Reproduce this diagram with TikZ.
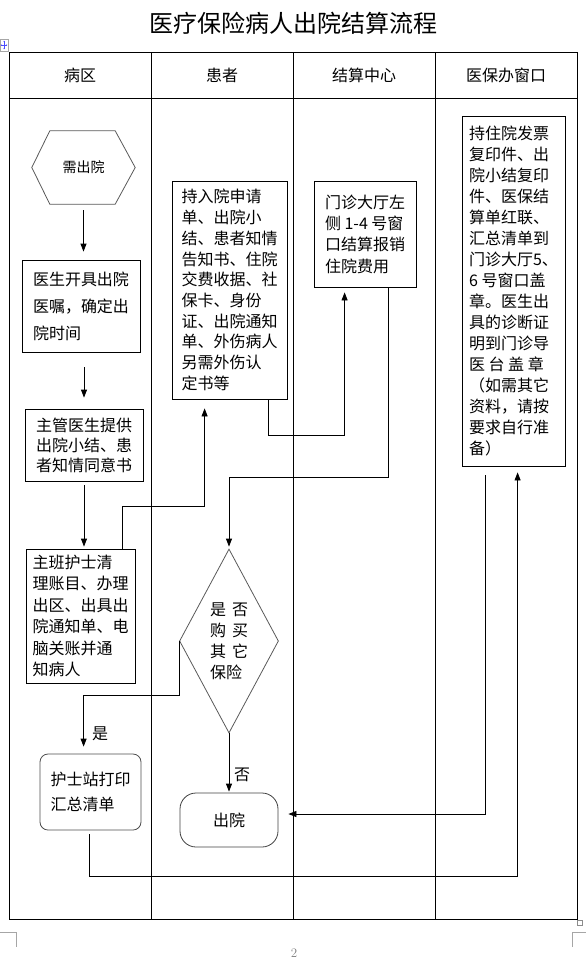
\documentclass[tikz,border=0pt]{standalone}
\usepackage{fontspec}
\newfontfamily\cjk{Noto Sans CJK SC}
\usetikzlibrary{calc,shapes.geometric,arrows.meta}

\tikzset{
	box/.style={draw, line width=0.8pt, font=\cjk\fontsize{16pt}{21pt}\selectfont, align=left, inner sep=0pt},
	head/.style={font=\cjk\fontsize{16pt}{16pt}\selectfont},
	tag/.style={font=\cjk\fontsize{16pt}{16pt}\selectfont, inner sep=0pt},
	arr/.style={line width=0.8pt, -{Triangle[width=6pt,length=8pt]}},
}

\begin{document}
\begin{tikzpicture}[x=1pt, y=-1pt]
		%%%%% START %%%%%
		\useasboundingbox (0,0) rectangle (586,975);
		
		\node[font=\cjk\fontsize{24pt}{24pt}\selectfont] (title) at (293, 23) {医疗保险病人出院结算流程};
		
		% table
		\draw[line width=1pt] (9, 52) rectangle (577, 919);
		\draw[line width=1pt] (9, 98) -- (577, 98);
		\draw[line width=1pt] (151, 52) -- (151, 919);
		\draw[line width=1pt] (293, 52) -- (293, 919);
		\draw[line width=1pt] (435, 52) -- (435, 919);
		
		\node[head] (ward) at (80, 75) {病区};
		\node[head] (pat) at (222, 75) {患者};
		\node[head] (cen) at (364, 75) {结算中心};
		\node[head] (win) at (506, 75) {医保办窗口};
		
		% word marks
		\draw[line width=0.6pt, color=black!35] (0, 39) rectangle (8, 51);
		\draw[line width=0.6pt, color=blue!70, {Stealth[length=1.5pt]}-{Stealth[length=1.5pt]}] (4, 40.5) -- (4, 49.5);
		\draw[line width=0.6pt, color=blue!70, {Stealth[length=1.5pt]}-{Stealth[length=1.5pt]}] (0.5, 45) -- (7.5, 45);
		\draw[line width=0.6pt, color=black!45] (577.5, 920) rectangle (582.5, 925);
		\draw[line width=0.7pt, color=black!35] (0, 932) -- (16, 932) -- (16, 947);
		\draw[line width=0.7pt, color=black!35] (572, 947) -- (572, 932) -- (586, 932);
		\node[text=black!50, font=\fontsize{13pt}{13pt}\selectfont] (pageno) at (294, 953) {2};
		
		% ward column
		\node[font=\cjk\fontsize{14pt}{14pt}\selectfont, minimum width=103pt, minimum height=73pt] (need) at (83.5, 167.5) {需出院};
		\draw[line width=0.8pt, color=black!65] (need.west) -- ($(need.north west)+(18,0)$) -- ($(need.north east)+(-20,0)$) -- (need.east) -- ($(need.south east)+(-20,0)$) -- ($(need.south west)+(18,0)$) -- cycle;
		
		\node[box, minimum width=118pt, minimum height=92pt, font=\cjk\fontsize{16pt}{27pt}\selectfont] (doctor) at (81, 306) {医生开具出院\\医嘱，确定出\\院时间};
		\node[box, minimum width=118pt, minimum height=72pt, font=\cjk\fontsize{16pt}{20pt}\selectfont] (chief) at (84, 445) {主管医生提供\\出院小结、患\\者知情同意书};
		\node[box, minimum width=109pt, minimum height=134pt, font=\cjk\fontsize{16pt}{21.4pt}\selectfont] (nurse) at (80.5, 616) {主班护士清\\理账目、办理\\出区、出具出\\院通知单、电\\脑关账并通\\知病人};
		\node[box, draw=black!70, rounded corners=8pt, minimum width=101pt, minimum height=76pt, font=\cjk\fontsize{16pt}{25pt}\selectfont] (station) at (90.5, 792) {护士站打印\\汇总清单};
		
		% patient column
		\node[box, minimum width=115pt, minimum height=218pt, font=\cjk\fontsize{16pt}{20.7pt}\selectfont] (patient) at (229.5, 290) {持入院申请\\单、出院小\\结、患者知情\\告知书、住院\\交费收据、社\\保卡、身份\\证、出院通知\\单、外伤病人\\另需外伤认\\定书等};
		\node[diamond, aspect=0.54, draw=black!65, line width=0.8pt, inner sep=0pt, minimum width=99pt, minimum height=184pt, align=left, font=\cjk\fontsize{16pt}{21pt}\selectfont] (decide) at (229, 641) {是\hspace{6pt}否\\购\hspace{6pt}买\\其\hspace{6pt}它\\保险};
		\node[box, draw=black!75, rounded corners=16pt, minimum width=98pt, minimum height=54pt] (exit) at (229, 820) {出院};
		
		% centre and window columns
		\node[box, minimum width=102pt, minimum height=106pt, font=\cjk\fontsize{16pt}{21.3pt}\selectfont] (settle) at (365, 234) {门诊大厅左\\侧 1-4 号窗\\口结算报销\\住院费用};
		\node[box, minimum width=103pt, minimum height=350pt, font=\cjk\fontsize{16pt}{21pt}\selectfont] (ins) at (513.5, 291) {持住院发票\\复印件、出\\院小结复印\\件、医保结\\算单红联、\\汇总清单到\\门诊大厅5、\\6 号窗口盖\\章。医生出\\具的诊断证\\明到门诊导\\医 台 盖 章\\（如需其它\\资料，请按\\要求自行准\\备）};
		
		% arrows
		\draw[arr, shorten <=6pt, shorten >=8pt] (need.south) -- (need.south |- doctor.north);
		\draw[arr, shorten <=15pt, shorten >=11pt] (chief.north |- doctor.south) -- (chief.north);
		\draw[arr, shorten <=4pt, shorten >=2pt] (chief.south) -- (chief.south |- nurse.north);
		\draw[arr, shorten >=9pt] ($(nurse.north east)+(-13,0)$) -- ++(0,-42) -| ($(patient.south west)+(33,0)$);
		\draw[arr, shorten >=5pt] ($(patient.south east)+(-19,0)$) -- ++(0,36) -| ($(settle.south west)+(31,0)$);
		\draw[arr, shorten >=2pt] ($(settle.south east)+(-28,0)$) -- ++(0,190) -| (decide.north);
		\draw[arr, shorten >=7pt] (decide.west) -- ++(0,54) -| ($(station.north west)+(44,0)$);
		\draw[arr, shorten >=1pt] (decide.south) -- (exit.north);
		\draw[arr, shorten <=4pt, shorten >=6pt] ($(station.south west)+(50,0)$) -- ++(0,46) -| ($(ins.south west)+(56,0)$);
		\draw[arr, shorten <=9pt, shorten >=10pt] ($(ins.south west)+(24,0)$) |- ($(exit.east)+(0,-6)$);
		
		\node[tag] (yes) at (100, 734) {是};
		\node[tag] (no) at (242, 775) {否};
		
		%%%%% END %%%%%
	\end{tikzpicture}
\end{document}
